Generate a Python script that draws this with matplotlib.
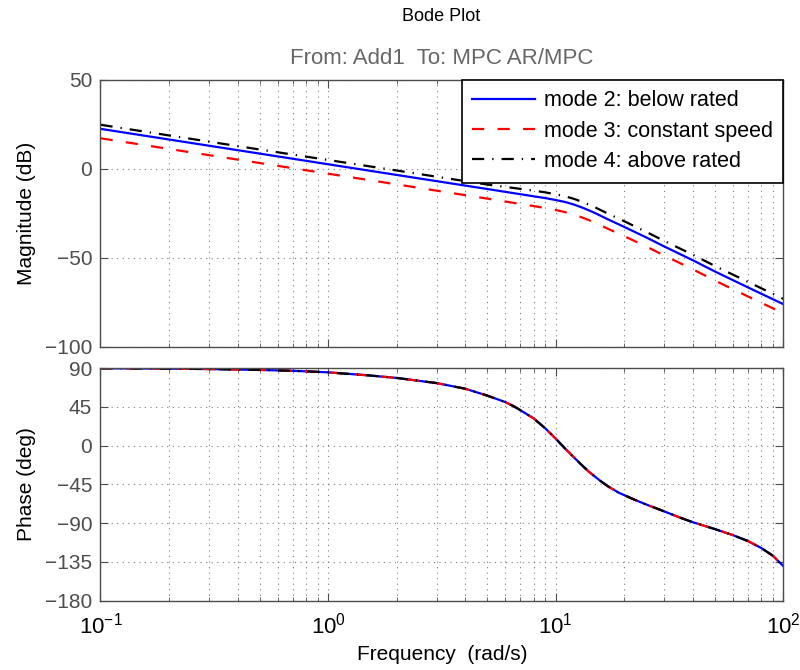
import numpy as np
import matplotlib
matplotlib.use("Agg")
import matplotlib.pyplot as plt
from matplotlib.ticker import LogLocator, NullFormatter

plt.rcParams['font.family'] = ['Liberation Sans', 'DejaVu Sans']

# frequency samples (rad/s) for magnitude
freq = [0.1, 0.2, 0.5, 1, 2, 5, 8, 9, 10, 11, 12, 13, 14, 15, 17, 20, 25, 30, 40, 50, 70, 100]
mag_mode2 = [22.3, 16.3, 8.4, 2.4, -3.6, -11.5, -15.6, -16.6, -17.7, -18.8, -20.2, -21.8, -23.5, -25.2, -28.6, -32.8, -38.7, -43.8, -51.5, -57.8, -66.8, -76.2]
mag_mode3 = [17.0, 11.0, 3.1, -2.9, -8.9, -16.9, -21.1, -22.2, -23.3, -24.5, -25.9, -27.4, -29.0, -30.6, -33.9, -38.0, -43.8, -48.9, -56.6, -62.9, -71.9, -81.3]
mag_mode4 = [24.6, 18.6, 10.7, 4.8, -1.1, -9.0, -12.4, -13.4, -14.5, -15.6, -17.0, -18.6, -20.3, -22.0, -25.4, -29.6, -35.6, -40.7, -48.4, -54.7, -63.7, -73.2]

# phase samples (identical for the three modes)
phase_freq = [0.1, 0.2, 0.3, 0.5, 0.7, 1, 1.5, 2, 3, 4, 5, 6, 6.5, 7, 8, 9, 10, 11, 12, 13, 14, 15.7, 17, 19, 22, 25, 30, 35, 40, 50, 60, 70, 80, 90, 100]
phase_deg = [89.7, 89.3, 88.8, 87.8, 86.8, 85.0, 81.5, 78.5, 72.5, 66.0, 58.0, 50.5, 46.0, 41.0, 31.5, 20.0, 8.0, -3.5, -13.5, -22.5, -30.5, -41.0, -47.5, -55.0, -62.5, -68.5, -76.5, -83.5, -89.0, -97.0, -104.0, -111.0, -119.0, -128.0, -140.0]

labels = ['mode 2: below rated', 'mode 3: constant speed', 'mode 4: above rated']
colors = ['#0000ff', '#ff0000', '#000000']
styles = ['-', (0, (5.5, 6.0)), (0, (5.5, 3.6, 0.6, 3.6))]

fig = plt.figure(figsize=(8, 6.7), dpi=100)
ax1 = fig.add_axes([0.1256, 0.4828, 0.8535, 0.3985])
ax2 = fig.add_axes([0.1256, 0.1037, 0.8535, 0.347])

gray = '#4d4d4d'
grid_kw = dict(color='#808080', linestyle=(0, (1, 4)), linewidth=0.8)
FS = 15

for ax in (ax1, ax2):
    ax.set_xscale('log')
    ax.set_xlim(0.1, 100)
    ax.xaxis.set_major_locator(LogLocator(base=10, numticks=10))
    ax.xaxis.set_minor_locator(LogLocator(base=10, subs=np.arange(2, 10), numticks=10))
    ax.xaxis.set_minor_formatter(NullFormatter())
    ax.tick_params(which='both', direction='in', top=True, right=True, colors=gray,
                   labelsize=FS, labelcolor=gray, pad=6)
    ax.tick_params(which='major', length=6)
    ax.tick_params(which='minor', length=3)
    ax.grid(True, which='major', **grid_kw)
    ax.grid(True, which='minor', axis='x', **grid_kw)
    for s in ax.spines.values():
        s.set_color(gray)
        s.set_linewidth(1.0)

mags = [mag_mode2, mag_mode3, mag_mode4]
for m, lab, c, ls in zip(mags, labels, colors, styles):
    ax1.plot(freq, m, color=c, linestyle=ls, linewidth=1.6, label=lab)
ax1.set_ylim(-100, 50)
ax1.set_yticks([-100, -50, 0, 50])
ax1.set_yticklabels(['\u2212100', '\u221250', '0', '50'])
ax1.tick_params(axis='x', labelbottom=False)
ax1.set_ylabel('Magnitude (dB)', fontsize=FS)
ax1.yaxis.set_label_coords(-0.095, 0.5)

for lab, c, ls in zip(labels, colors, styles):
    ax2.plot(phase_freq, phase_deg, color=c, linestyle=ls, linewidth=1.6)
ax2.set_ylim(-180, 90)
ax2.set_yticks([-180, -135, -90, -45, 0, 45, 90])
ax2.set_yticklabels(['\u2212180', '\u2212135', '\u221290', '\u221245', '0', '45', '90'])
ax2.set_ylabel('Phase (deg)', fontsize=FS)
ax2.yaxis.set_label_coords(-0.095, 0.5)
ax2.set_xlabel('Frequency  (rad/s)', fontsize=FS)
ax2.xaxis.set_label_coords(0.5, -0.19)
ax2.tick_params(axis='x', which='major', labelcolor='black', labelsize=FS + 1, pad=9)

leg = ax1.legend(loc='upper right', fontsize=15.5, frameon=True, fancybox=False,
                 edgecolor='black', framealpha=1, borderaxespad=0.0, handlelength=2.9,
                 handletextpad=0.4, borderpad=0.5, labelspacing=0.43)
leg.get_frame().set_linewidth(1.2)

fig.text(0.552, 0.9761, 'Bode Plot', ha='center', va='center', fontsize=13)
fig.text(0.552, 0.913, 'From: Add1  To: MPC AR/MPC', ha='center', va='center', fontsize=16, color='#666666')

fig.savefig('out.png', dpi=100)
